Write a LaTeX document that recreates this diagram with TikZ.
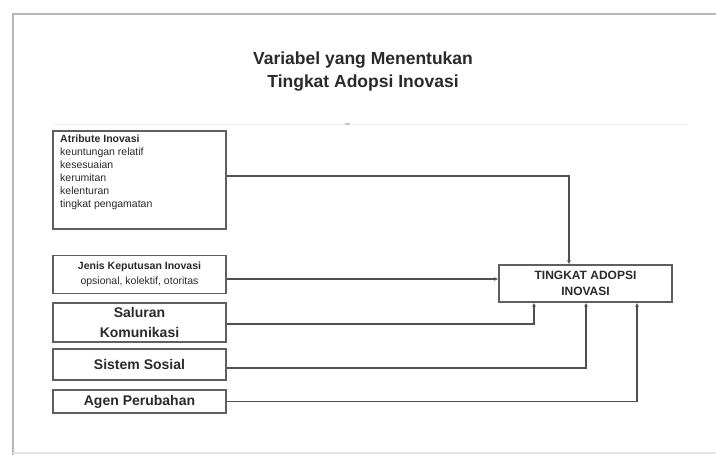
\documentclass[tikz,border=0pt]{standalone}
\usepackage{fontspec}
\setmainfont{Liberation Sans}
\usetikzlibrary{arrows.meta}
\definecolor{boxgray}{HTML}{5F5F5F}
\definecolor{linegray}{HTML}{505050}
\definecolor{txt}{HTML}{2A2A2A}
\tikzset{
  boxnode/.style={draw=boxgray, line width=1.4pt, rectangle, minimum width=173pt, inner sep=0pt, text=txt},
  conn/.style={draw=linegray, line width=1.2pt, -{Latex[length=4pt,width=4pt]}},
  small/.style={font=\fontsize{10.5}{13}\selectfont, text=txt}
}
\begin{document}
\begin{tikzpicture}[x=1pt,y=-1pt]
\useasboundingbox (0,0) rectangle (716,455);
\fill[white] (0,0) rectangle (716,455);
% page frame
\draw[gray!55, line width=1.6pt] (13,455) -- (13,14) -- (716,14);
\draw[gray!20, line width=1.2pt] (13,453) -- (716,453);
\draw[gray!10, line width=1pt] (52,124) -- (688,124);
\fill[gray!45!blue!30] (345,122.8) rectangle (350,125.2);
% title
\node[font=\fontsize{17.5}{23}\selectfont\bfseries, text=txt, align=center] (title) at (363,71.5)
  {Variabel yang Menentukan\\Tingkat Adopsi Inovasi};
% boxes
\node[boxnode, minimum height=98pt] (attr) at (139.5,180) {};
\node[small, align=left, anchor=north west, inner sep=0pt] (attrtext) at (60,134.5)
  {\textbf{Atribute Inovasi}\\keuntungan relatif\\kesesuaian\\kerumitan\\kelenturan\\tingkat pengamatan};
\node[boxnode, minimum height=38pt, align=center, font=\fontsize{10.5}{14.5}\selectfont] (jenis) at (139.5,274.5)
  {\textbf{Jenis Keputusan Inovasi}\\opsional, kolektif, otoritas};
\node[boxnode, minimum height=39pt, align=center, font=\fontsize{14}{20}\selectfont\bfseries] (sal) at (139.5,322.5)
  {Saluran\\Komunikasi};
\node[boxnode, minimum height=31pt, font=\fontsize{14}{17}\selectfont\bfseries] (sis) at (139.5,364.5)
  {Sistem Sosial};
\node[boxnode, minimum height=23pt, font=\fontsize{14}{17}\selectfont\bfseries] (agen) at (139.5,401.5)
  {Agen Perubahan};
\node[boxnode, minimum height=37pt, align=center, font=\fontsize{12}{16.5}\selectfont\bfseries] (ting) at (585.5,283.5)
  {TINGKAT ADOPSI\\INOVASI};
% connectors
\draw[conn] ([yshift=4pt]attr.east) -| ([xshift=-16.5pt]ting.north);
\draw[conn] ([yshift=-4.5pt]jenis.east) -- ([yshift=-4.5pt]jenis.east -| ting.west);
\draw[conn] ([yshift=-1.5pt]sal.east) -| ([xshift=-51.5pt]ting.south);
\draw[conn] ([yshift=-3.5pt]sis.east) -| ([xshift=0.5pt]ting.south);
\draw[conn] (agen.east) -| ([xshift=51.5pt]ting.south);
\end{tikzpicture}
\end{document}
